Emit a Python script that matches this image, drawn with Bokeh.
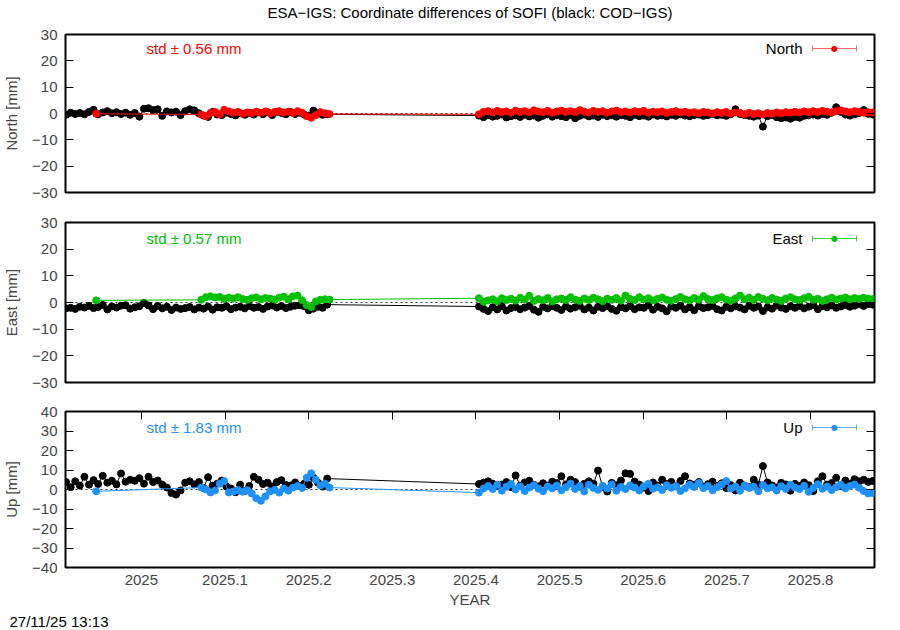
import numpy as np
from bokeh.plotting import figure
from bokeh.models import (Range1d, FixedTicker, LinearAxis, Span, Label, Arrow, TeeHead,
                          CustomJSTickFormatter, Title)
from bokeh.layouts import column
from bokeh.embed import file_html
from bokeh.resources import INLINE

# ---------------- data ----------------
TITLE = "ESA\u2212IGS: Coordinate differences of SOFI (black: COD\u2212IGS)"
TIMESTAMP = "27/11/25 13:13"
X_START, X_END = 2024.9093, 2025.8765
STEP = 2 / 365.25            # sampling interval of the series (years)
REF_A_START = 2024.910       # COD-IGS, first block
REF_B_START = 2025.4036      # COD-IGS, second block
ESA_FIRST_EPOCH = 2024.946   # ESA-IGS isolated first epoch
ESA_A_START = 2025.0717
ESA_B_START = 2025.4036

XTICKS = [2025.0, 2025.1, 2025.2, 2025.3, 2025.4, 2025.5, 2025.6, 2025.7, 2025.8]
XTICK_LABELS = ["2025", "2025.1", "2025.2", "2025.3", "2025.4", "2025.5", "2025.6", "2025.7", "2025.8"]

# North
north_ref_a = [-0.5, 0.3, -0.2, 0.2, -0.3, 0.6, 1.4, -0.3, 0.4, 0.9,
               0.1, 0.5, -0.2, 0.3, -0.5, 0.2, -1.2, 1.8, 2.0, 1.3,
               1.6, -0.9, 0.8, 0.4, 0.7, -0.6, 0.9, 1.6, 1.2, 0.1,
               -0.8, -1.3, 0.6, -0.4, -0.6, 0.3, -0.2, -0.7, 0.1, -0.5,
               0.2, -0.4, 0.4, -0.3, 0.5, -0.6, 0.6, 0.2, -0.3, 0.6,
               -0.2, 0.3, -0.4, -0.8, 1.1, 0.3, -0.5, -0.3]
north_ref_b = [-0.8, -1.4, -0.6, -1.2, -0.9, -0.4, -1.5, -1.0, -0.7, -1.3,
               -0.5, -1.1, -0.8, -1.6, -0.9, -0.3, -1.2, -0.7, -1.0, -1.4,
               -0.6, -1.8, -0.9, -0.4, -1.1, -0.8, -1.3, -0.5, -1.0, -0.7,
               -1.2, -0.6, -0.9, -1.4, -0.5, -1.0, -0.8, -1.2, -0.4, -0.9,
               -0.7, -1.1, -0.5, -0.9, -0.3, -0.8, -1.0, -0.6, -0.4, -0.9,
               -0.6, -0.2, -0.7, -0.5, -0.9, -0.3, 1.6, -0.2, -0.6, -0.9,
               -1.2, -0.8, -5.0, -1.0, -0.6, -1.4, -1.8, -1.5, -2.0, -1.3,
               -1.6, -0.9, -0.7, -0.4, -0.8, -0.2, -0.5, 0.3, 2.4, 0.6,
               -0.4, -0.8, -0.3, 0.2, 1.3, -0.1, -0.4]
north_esa_first = -0.1
north_esa_a = [-0.4, -1.0, 0.2, 0.6, -0.3, 1.4, 0.8, 0.3, 0.6, -0.1,
               0.4, 0.2, 0.7, 0.3, 0.8, 0.1, 0.6, 0.9, 0.4, 0.7,
               0.2, 0.9, 0.3, -1.0, -1.6, -0.6, 0.5, 0.1, -0.2]
north_esa_b = [-0.3, 0.6, 0.9, 0.4, 1.0, 0.5, 0.8, 0.3, 1.1, 0.6,
               0.9, 0.4, 1.2, 0.7, 0.5, 1.0, 0.3, 0.8, 1.1, 0.6,
               0.9, 0.5, 1.3, 0.7, 0.4, 1.0, 0.6, 0.9, 0.3, 0.8,
               1.1, 0.5, 0.8, 0.4, 0.9, 0.6, 1.0, 0.3, 0.7, 0.5,
               0.8, 0.2, 0.6, 0.9, 0.4, 0.7, 0.3, 0.5, 0.1, 0.6,
               0.4, 0.0, 0.5, 0.2, 0.6, -0.1, 0.4, 0.2, -0.3, 0.3,
               -0.2, 0.1, -0.4, 0.2, -0.1, 0.4, 0.1, 0.5, 0.3, 0.7,
               0.4, 0.8, 0.5, 0.9, 0.6, 1.0, 0.7, 0.4, 0.9, 1.2,
               0.8, 0.5, 0.9, 0.6, 0.3, 0.5, 0.4]

# East
east_ref_a = [-2.2, -2.0, -2.4, -1.6, -1.9, -1.3, -2.1, -1.7, -0.9, -2.6,
              -1.5, -1.9, -1.2, -1.0, -2.3, -1.8, -1.4, -0.2, -1.1, -2.5,
              -1.3, -2.2, -1.6, -2.8, -1.9, -2.4, -2.1, -1.7, -2.6, -1.9,
              -2.3, -1.5, -2.7, -1.8, -2.0, -1.4, -2.5, -1.9, -1.6, -2.2,
              -1.3, -2.0, -1.7, -2.4, -1.5, -1.1, -1.9, -1.3, -2.1, -1.6,
              -1.2, -1.0, -1.4, -2.9, -2.3, -1.6, -2.0, -0.8]
east_ref_b = [-1.5, -2.4, -3.2, -1.8, -2.6, -1.4, -3.0, -2.1, -1.7, -2.5,
              -1.9, -1.3, -2.7, -3.5, -1.6, -2.2, -1.4, -2.0, -2.8, -1.5,
              -2.3, -1.8, -1.2, -2.6, -1.9, -3.0, -1.6, -2.1, -1.4, -2.4,
              -3.1, -1.7, -2.2, -1.3, -2.5, -1.8, -2.0, -1.1, -2.7, -1.6,
              -2.2, -3.3, -1.5, -2.0, -1.2, -2.6, -1.7, -2.9, -1.4, -2.1,
              -1.8, -1.3, -2.5, -3.0, -1.6, -2.2, -1.4, -1.9, -2.6, -1.2,
              -2.0, -1.5, -3.2, -1.8, -2.3, -1.1, -1.9, -2.4, -1.4, -2.0,
              -1.3, -2.2, -1.6, -1.0, -2.5, -1.4, -1.8, -1.1, -2.0, -1.5,
              -0.9, -1.6, -1.2, -0.7, -1.3, -0.6, -0.8]
east_esa_first = 0.8
east_esa_a = [1.0, 2.0, 2.3, 1.9, 2.1, 1.4, 1.8, 1.5, 2.0, 1.3,
              1.0, 1.6, 1.9, 1.2, 1.7, 1.5, 1.1, 1.8, 2.2, 1.2,
              2.3, 2.6, 0.8, -1.0, -1.7, 0.4, 1.0, 1.2, 1.1]
east_esa_b = [1.6, 0.3, 0.8, 1.2, 0.5, 1.6, 0.9, 1.4, 0.7, 1.8,
              1.1, 2.5, 0.6, 1.3, 0.8, 1.7, 0.4, 1.2, 1.5, 0.9,
              2.0, 1.1, 0.6, 1.5, 0.9, 1.8, 1.2, 0.5, 1.4, 1.0,
              1.7, 0.7, 2.6, 1.3, 0.9, 2.0, 1.1, 1.6, 0.8, 1.4,
              1.9, 1.0, 0.6, 1.3, 2.1, 1.2, 0.8, 1.7, 1.0, 2.4,
              1.3, 0.9, 1.6, 2.0, 1.1, 0.7, 1.5, 2.6, 1.2, 1.8,
              1.0, 2.1, 1.4, 0.8, 1.7, 1.1, 0.6, 1.5, 2.0, 1.2,
              0.9, 1.6, 2.2, 1.0, 1.4, 0.6, 1.2, 1.8, 1.1, 1.5,
              1.9, 1.2, 1.7, 1.3, 1.8, 1.4, 1.3]

# Up
up_ref_a = [3.8, 1.2, 4.2, 2.0, 6.5, 2.5, 4.8, 2.8, 7.0, 3.5,
            4.5, 2.6, 8.2, 4.0, 5.0, 4.5, 5.8, 3.0, 6.5, 3.8,
            4.6, 2.5, 1.0, -1.8, -2.6, -0.5, 3.5, 4.2, 2.6, 3.8,
            0.8, 6.3, 2.0, 3.0, 4.6, 1.5, 0.5, -1.4, 2.4, -0.8,
            1.8, 6.5, 5.0, 2.8, 3.5, 1.5, 3.8, 4.8, 2.3, 2.0,
            3.6, 1.8, 3.0, 2.4, 6.0, 3.5, 1.5, 5.6]
up_ref_b = [2.8, 3.5, 4.2, 3.0, 1.8, 2.5, 3.8, 1.2, 7.2, 2.0,
            3.6, 4.5, 2.4, 1.6, 3.2, 2.0, 4.0, 3.3, 6.8, 2.6,
            5.0, 3.8, 1.5, 2.9, 4.2, 3.0, 9.7, 1.4, -1.0, 3.4,
            2.2, 4.6, 8.3, 8.0, 4.1, 2.5, 1.0, -0.8, 3.6, 2.0,
            5.0, 2.8, 3.9, 1.6, 4.4, 6.8, 3.1, 2.3, 3.8, 1.5,
            2.7, 4.0, 1.9, 3.2, 0.8, 2.2, -0.5, 3.5, 2.0, 1.2,
            5.0, 2.5, 12.0, 3.6, 2.1, 1.0, 3.4, 2.6, -0.6, 2.9,
            1.8, 3.6, 2.2, -0.8, 4.2, 6.8, 2.5, 3.3, 6.0, 1.8,
            4.6, 3.0, 5.3, 4.2, 5.0, 3.9, 4.4]
up_esa_first = -0.9
up_esa_a = [1.0, 0.0, -1.5, -0.5, 3.0, 4.3, -1.5, -1.0, -0.3, -1.2,
            -0.4, -2.0, -4.5, -5.8, -3.5, -1.0, -0.2, -1.6, 0.5, -0.6,
            1.0, 1.8, 0.8, 6.0, 8.3, 5.0, 2.0, 3.0, 1.0]
up_esa_b = [-1.6, 0.5, 1.8, 0.2, 2.5, -0.6, 1.4, 2.8, 0.0, 1.6,
            -0.8, 1.0, 2.2, 0.4, -0.9, 1.5, 0.6, 2.0, -0.4, 1.2,
            3.0, 0.3, 1.8, -1.0, 2.4, 0.8, -0.2, 1.9, 0.5, 2.6,
            -0.7, 1.3, 0.2, 2.1, 1.0, -0.5, 1.6, 2.9, 0.4, 1.1,
            -0.3, 2.2, 0.9, 1.7, -0.8, 0.6, 2.4, 1.3, 3.3, 0.7,
            1.8, -0.4, 1.2, 2.6, 4.3, 0.5, 1.5, -0.6, 2.0, 0.8,
            1.4, -0.9, 2.3, 0.6, 1.1, -0.5, 1.7, 0.3, 2.5, 1.0,
            0.2, 1.9, -1.2, 0.8, 2.7, 0.4, 1.5, -0.3, 1.2, 2.4,
            0.6, 1.8, 2.6, 0.9, -0.8, -2.0, -1.8]

STD_TEXT = {"North": "std \u00b1 0.56 mm", "East": "std \u00b1 0.57 mm", "Up": "std \u00b1 1.83 mm"}
COLORS = {"North": "#ff0000", "East": "#00c000", "Up": "#1e90ff"}
LITE = {"North": "#ff6a6a", "East": "#40d040", "Up": "#5aaaff"}

FONT = "Liberation Sans"
FS = "15px"


def epochs(start, n):
    return start + STEP * np.arange(n)


def minus_labels(ticks):
    return {t: (str(t).replace("-", "\u2212")) for t in ticks}


def panel(name, ylo, yhi, ystep, ref_a, ref_b, esa_first, esa_a, esa_b,
          height, top, bottom, frame_h, bottom_axis=False):
    color = COLORS[name]
    p = figure(width=890, height=height,
               x_range=Range1d(X_START, X_END), y_range=Range1d(ylo, yhi),
               output_backend="svg", toolbar_location=None,
               x_axis_location=("below" if bottom_axis else None),
               min_border_left=64, min_border_right=16,
               min_border_top=top, min_border_bottom=bottom)
    p.grid.visible = False
    p.outline_line_color = "black"
    p.outline_line_width = 2
    p.background_fill_color = "white"
    p.border_fill_color = "white"

    yt = list(range(ylo, yhi + 1, ystep))
    ya = p.yaxis[0]
    ya.ticker = FixedTicker(ticks=yt)
    ya.major_label_overrides = minus_labels(yt)
    ya.major_tick_in = 8
    ya.major_tick_out = 0
    ya.minor_tick_in = 0
    ya.minor_tick_out = 0
    ya.axis_line_color = None
    ya.major_label_standoff = 8
    ya.major_label_text_font = FONT
    ya.major_label_text_font_size = FS
    ya.axis_label = name + " [mm]"
    ya.axis_label_text_font = FONT
    ya.axis_label_text_font_size = FS
    ya.axis_label_text_font_style = "normal"
    ya.axis_label_standoff = 9

    ra = LinearAxis(ticker=FixedTicker(ticks=yt),
                    formatter=CustomJSTickFormatter(code="return ''"),
                    major_tick_in=8, major_tick_out=0, minor_tick_in=0, minor_tick_out=0,
                    axis_line_color=None, major_label_standoff=0)
    p.add_layout(ra, "right")

    if bottom_axis:
        xa = p.xaxis[0]
        xa.ticker = FixedTicker(ticks=XTICKS)
        xa.major_label_overrides = dict(zip(XTICKS, XTICK_LABELS))
        xa.major_tick_in = 0
        xa.major_tick_out = 0
        xa.minor_tick_in = 0
        xa.minor_tick_out = 0
        xa.axis_line_color = None
        xa.major_label_standoff = 7
        xa.major_label_text_font = FONT
        xa.major_label_text_font_size = FS
        xa.axis_label = "YEAR"
        xa.axis_label_text_font = FONT
        xa.axis_label_text_font_size = FS
        xa.axis_label_text_font_style = "normal"
        xa.axis_label_standoff = 3
        ta = LinearAxis(ticker=FixedTicker(ticks=XTICKS),
                        formatter=CustomJSTickFormatter(code="return ''"),
                        major_tick_in=8, major_tick_out=0, minor_tick_in=0, minor_tick_out=0,
                        axis_line_color=None, major_label_standoff=0)
        p.add_layout(ta, "above")

    zero = Span(location=0, dimension="width", line_color="black",
                line_width=0.8, line_dash="2 3", level="underlay")
    p.add_layout(zero)

    # COD-IGS (black)
    rx = np.concatenate([epochs(REF_A_START, len(ref_a)), epochs(REF_B_START, len(ref_b))])
    ry = np.concatenate([ref_a, ref_b])
    p.line(rx, ry, line_color="black", line_width=1)
    p.scatter(rx, ry, size=7, fill_color="black", line_color="black")

    # ESA-IGS (coloured)
    ex = np.concatenate([[ESA_FIRST_EPOCH], epochs(ESA_A_START, len(esa_a)), epochs(ESA_B_START, len(esa_b))])
    ey = np.concatenate([[esa_first], esa_a, esa_b])
    p.line(ex, ey, line_color=color, line_width=1)
    p.scatter(ex, ey, size=7, fill_color=color, line_color=color)

    # std text
    yy = frame_h - 16
    p.add_layout(Label(x=81, y=yy, x_units="screen", y_units="screen",
                       text=STD_TEXT[name], text_color=color, text_font=FONT,
                       text_font_size=FS, text_baseline="middle"))
    # key
    p.add_layout(Label(x=737, y=yy, x_units="screen", y_units="screen",
                       text=name, text_color="black", text_font=FONT,
                       text_font_size=FS, text_baseline="middle", text_align="right"))
    p.add_layout(Arrow(start=TeeHead(size=6, line_color=LITE[name], line_width=1),
                       end=TeeHead(size=6, line_color=LITE[name], line_width=1),
                       x_start=747, y_start=yy, x_end=791, y_end=yy,
                       start_units="screen", end_units="screen",
                       line_color=LITE[name], line_width=1))
    p.add_layout(Label(x=769, y=yy, x_units="screen", y_units="screen",
                       text="\u25cf", text_color=color, text_font="DejaVu Sans",
                       text_font_size="8px", text_baseline="middle", text_align="center"))
    return p


p1 = panel("North", -30, 30, 10, north_ref_a, north_ref_b, north_esa_first, north_esa_a, north_esa_b,
           height=207, top=32, bottom=15, frame_h=160)
# main title: label of a tick-less axis above the top panel
title_axis = LinearAxis(ticker=FixedTicker(ticks=[]), axis_label=TITLE,
                        axis_line_color=None, major_tick_in=0, major_tick_out=0,
                        minor_tick_in=0, minor_tick_out=0, major_label_standoff=0,
                        axis_label_standoff=14, axis_label_text_font=FONT,
                        axis_label_text_font_size=FS, axis_label_text_font_style="normal",
                        axis_label_text_color="black")
p1.add_layout(title_axis, "above")

p2 = panel("East", -30, 30, 10, east_ref_a, east_ref_b, east_esa_first, east_esa_a, east_esa_b,
           height=189, top=15, bottom=14, frame_h=160)
p3 = panel("Up", -40, 40, 10, up_ref_a, up_ref_b, up_esa_first, up_esa_a, up_esa_b,
           height=234, top=15, bottom=63, frame_h=156, bottom_axis=True)
p3.add_layout(Title(text=TIMESTAMP, align="left", offset=-56, standoff=1,
                    text_font=FONT, text_font_size=FS, text_font_style="normal",
                    text_color="black"), "below")

layout = column(p1, p2, p3, spacing=0)
open("out.html", "w").write(file_html(layout, INLINE))
